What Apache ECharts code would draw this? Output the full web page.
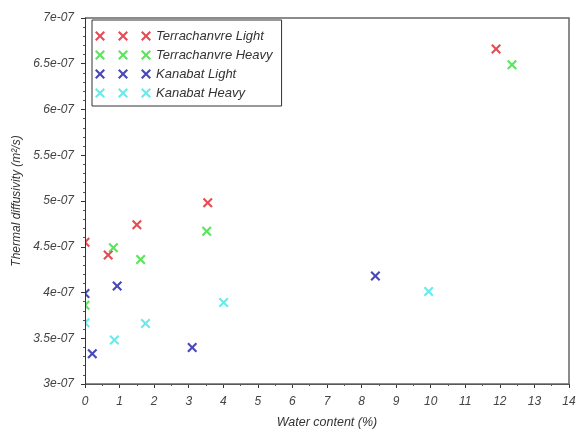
<!DOCTYPE html>
<html>
<head>
<meta charset="utf-8">
<script src="https://cdn.jsdelivr.net/npm/echarts@6/dist/echarts.min.js"></script>
<style>html,body{margin:0;padding:0;background:#fff}#c{width:576px;height:430px}</style>
</head>
<body>
<div id="c"></div>
<script>
// ---- data ----
const seriesNames = ['Terrachanvre Light', 'Terrachanvre Heavy', 'Kanabat Light', 'Kanabat Heavy'];
const seriesColors = ['#e01f28', '#35dd35', '#1a1aa8', '#45e5e5'];
const terraLightX = [0, 0.67, 1.50, 3.55, 11.89];
const terraLightY = [4.55e-7, 4.41e-7, 4.74e-7, 4.98e-7, 6.66e-7];
const terraHeavyX = [0, 0.82, 1.61, 3.52, 12.35];
const terraHeavyY = [3.86e-7, 4.49e-7, 4.36e-7, 4.67e-7, 6.49e-7];
const kanaLightX = [0, 0.21, 0.93, 3.10, 8.40];
const kanaLightY = [3.99e-7, 3.33e-7, 4.07e-7, 3.40e-7, 4.18e-7];
const kanaHeavyX = [0, 0.85, 1.75, 4.01, 9.94];
const kanaHeavyY = [3.67e-7, 3.48e-7, 3.66e-7, 3.89e-7, 4.01e-7];
const xTickLabels = ['0','1','2','3','4','5','6','7','8','9','10','11','12','13','14'];
const yTickLabels = ['3e-07','3.5e-07','4e-07','4.5e-07','5e-07','5.5e-07','6e-07','6.5e-07','7e-07'];

const allX = [terraLightX, terraHeavyX, kanaLightX, kanaHeavyX];
const allY = [terraLightY, terraHeavyY, kanaLightY, kanaHeavyY];

function crossAt(dx) {
  const p = [[0,1.5],[1.5,0],[5,3.5],[8.5,0],[10,1.5],[6.5,5],[10,8.5],[8.5,10],[5,6.5],[1.5,10],[0,8.5],[3.5,5]];
  return 'M' + p.map(q => (q[0] + dx) + ',' + q[1]).join('L') + 'Z';
}
const crossPath = 'path://' + crossAt(0);
const legendIcon = 'path://' + crossAt(0) + crossAt(23) + crossAt(46);

const FONT = 'Liberation Sans';
const gridLeft = 85, gridRight = 7, gridTop = 18, gridBottom = 46;

const chart = echarts.init(document.getElementById('c'));
chart.setOption({
  animation: false,
  backgroundColor: '#fff',
  grid: { left: gridLeft, right: gridRight, top: gridTop, bottom: gridBottom, containLabel: false, outerBoundsMode: 'none',
    show: true, borderColor: '#666', borderWidth: 1.5, backgroundColor: 'transparent', z: 6 },
  legend: {
    orient: 'vertical',
    left: 92, top: 20,
    padding: [9, 9, 6, 3],
    itemWidth: 56, itemHeight: 10, itemGap: 5,
    borderColor: '#333', borderWidth: 1,
    backgroundColor: '#fff',
    data: seriesNames.map(n => ({ name: n, icon: legendIcon })),
    textStyle: { fontFamily: FONT, fontStyle: 'italic', fontSize: 13, color: '#333', lineHeight: 14 }
  },
  xAxis: {
    type: 'value', min: 0, max: 14, interval: 1,
    name: 'Water content (%)', nameLocation: 'middle', nameGap: 32,
    nameTextStyle: { fontFamily: FONT, fontStyle: 'italic', fontSize: 12.5, color: '#333' },
    axisLine: { onZero: false, lineStyle: { color: '#333', width: 1 } },
    axisTick: { show: true, length: 4, lineStyle: { color: '#333' } },
    minorTick: { show: true, splitNumber: 2, length: 2, lineStyle: { color: '#555' } },
    splitLine: { show: false },
    axisLabel: { fontFamily: FONT, fontStyle: 'italic', fontSize: 12, color: '#444', margin: 12,
      formatter: v => xTickLabels[Math.round(v)] }
  },
  yAxis: {
    type: 'value', min: 3e-7, max: 7e-7, interval: 0.5e-7, z: 8,
    name: 'Thermal diffusivity (m²/s)', nameLocation: 'middle', nameGap: 61,
    nameTextStyle: { fontFamily: FONT, fontStyle: 'italic', fontSize: 12, color: '#333' },
    axisLine: { onZero: false, lineStyle: { color: '#333', width: 1 } },
    axisTick: { show: true, length: 4, lineStyle: { color: '#333' } },
    minorTick: { show: true, splitNumber: 5, length: 2, lineStyle: { color: '#555' } },
    splitLine: { show: false },
    axisLabel: { fontFamily: FONT, fontStyle: 'italic', fontSize: 12, color: '#444', margin: 11,
      formatter: v => yTickLabels[Math.round((v - 3e-7) / 0.5e-7)] }
  },
  graphic: [{
    type: 'rect', z: 7, silent: true,
    shape: { x: gridLeft - 7, y: gridTop - 2, width: 7, height: 430 - gridTop - gridBottom + 4 },
    style: { fill: '#fff' }
  }],
  series: seriesNames.map((n, i) => ({
    name: n, type: 'scatter', z: 3,
    symbol: crossPath, symbolSize: 10,
    itemStyle: { color: seriesColors[i] },
    data: allX[i].map((x, j) => [x, allY[i][j]])
  }))
});
</script>
</body>
</html>
